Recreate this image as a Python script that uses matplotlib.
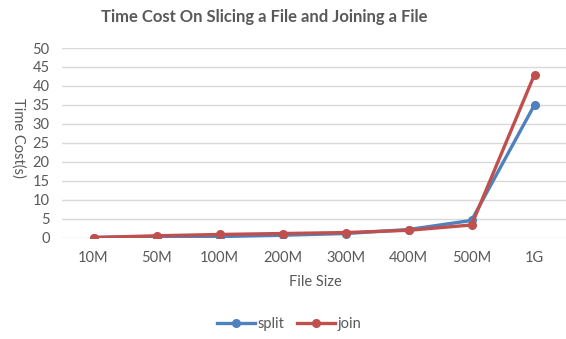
import matplotlib.pyplot as plt

sizes = ["10M", "50M", "100M", "200M", "300M", "400M", "500M", "1G"]
split_times = [0.0, 0.25, 0.25, 0.6, 1.05, 2.1, 4.5, 35.0]
join_times = [0.0, 0.45, 0.8, 1.05, 1.3, 1.9, 3.3, 43.0]

GRAY = "#595959"
plt.rcParams["font.family"] = ["Lato", "DejaVu Sans"]

fig = plt.figure(figsize=(5.66, 3.39), dpi=100)
ax = fig.add_axes([62 / 566, 1 - 237.5 / 339, 1 - 62 / 566, (237.5 - 48) / 339])

x = range(len(sizes))
ax.plot(x, split_times, color="#4F81BD", lw=2.4, marker="o", ms=5.5, label="split", zorder=3)
ax.plot(x, join_times, color="#C0504D", lw=2.4, marker="o", ms=5.5, label="join", zorder=4)

ax.set_xlim(-0.5, len(sizes) - 0.5)
ax.set_ylim(0, 50)
ax.set_yticks(range(0, 51, 5))
ax.set_xticks(list(x))
ax.set_xticklabels(sizes)
ax.yaxis.grid(True, color="#D9D9D9", lw=1)
ax.set_axisbelow(True)
for s in ax.spines.values():
    s.set_visible(False)
ax.tick_params(length=0, colors=GRAY, labelsize=10.5)
ax.tick_params(axis="x", pad=9.5)
ax.tick_params(axis="y", pad=9)

fig.text(264.5 / 566, 1 - 17 / 339, "Time Cost On Slicing a File and Joining a File",
         ha="center", va="center", fontsize=12, fontweight="bold", color=GRAY)
fig.text(18 / 566, 1 - 138 / 339, "Time Cost(s)", rotation=270,
         ha="center", va="center", fontsize=10.5, color=GRAY)
fig.text(315 / 566, 1 - 282 / 339, "File Size", ha="center", va="center",
         fontsize=10.5, color=GRAY)

fig.legend(loc="center", bbox_to_anchor=(289 / 566, 1 - 324 / 339), ncol=2,
           frameon=False, fontsize=10.5, labelcolor=GRAY, handlelength=2.6,
           handletextpad=0.15, columnspacing=0.9)

fig.savefig("out.png", dpi=100)
